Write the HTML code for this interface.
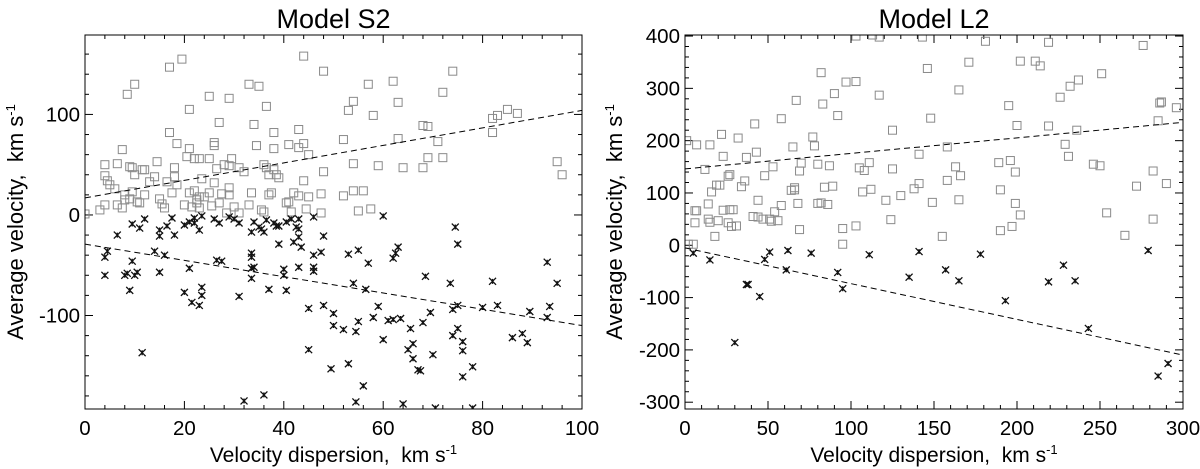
<!DOCTYPE html>
<html><head><meta charset="utf-8"><style>
html,body{margin:0;padding:0;background:#fff;}
svg{display:block;font-family:"Liberation Sans",sans-serif;}
</style></head><body>
<svg id="fig" width="1200" height="469" viewBox="0 0 1200 469" xmlns="http://www.w3.org/2000/svg"></svg>
<script>
// ---- Panel S2 data ----
const s2Squares = [[19.5,155],[17,147],[10,130],[8.5,120],[33,130],[35,128],[25,118],[29,116],[21,105],[36.5,108],[44,158],[48,143],[57,130],[62,133],[74,143],[72,122],[53,104],[54,113],[58,99],[63,112],[68,89],[69,88],[43,85],[34,90],[27,92],[38,82],[17,82],[7.5,65],[18.5,71],[21,66],[26,72],[26,69],[34.5,69],[38,66],[41,70],[43,67],[44,71],[45,60],[52,75],[63,76],[71,73],[82,82],[82,96],[83,99],[85,105],[87,101],[95,53],[96,40],[4,50],[6.5,51],[9,48],[9.5,47],[11.5,45],[12,45],[14.5,53],[18,47],[20.5,58],[22,56],[23,56],[25,56],[28,50],[29,49],[29.5,56],[31,47],[32,43],[36,50],[36.5,47],[38,45],[38.5,40],[39,37],[37,40],[44,34],[48,43],[54,51],[59,49],[64,47],[68,47],[69,57],[72,57],[4,39],[4.5,34],[5,30],[6,26],[8,20],[9,16],[9.5,23],[10,40],[10.5,13],[11,12],[12,20],[13,33],[14,38],[15,16],[15.5,11],[16,7],[16.5,33],[17.5,22],[18,38],[18.5,30],[20,10],[21,22],[21.5,8],[22,24],[22.5,12],[23,18],[23.5,36],[24,18],[25,22],[25.5,9],[26,32],[26.5,46],[27,12],[27.5,21],[29,27],[29,20],[30,8],[31,2],[33,10],[33.5,22],[35.5,5],[36,3],[37,20],[37.5,22],[40.5,12],[41,13],[41.5,3],[42,22],[43,19],[44.5,6],[45,18],[47.5,21],[47.5,2],[52,19],[54,24],[55,4],[56,24],[57.5,6],[3,5],[4,10],[6.5,10],[7.5,7],[8,15],[28.5,2],[23,7],[22.5,15],[0,1]];
const s2Crosses = [[6.5,-20],[9.5,-9],[11,-13],[12,-4],[15,-15],[15,-21],[16.5,-11],[17.5,-3],[18,-20],[20,-10],[21,-7],[22,-8],[22,-3],[23,-15],[23.5,-1],[26,-4],[27,-8],[29,-2],[30,-4],[31,-8],[33.5,-17],[34,-7],[35,-12],[35.5,-14],[36,-17],[36.5,-5],[38,-8],[38.5,-11],[39,-11],[40.5,-7],[41.5,-4],[42,-27],[42.5,-12],[43,-14],[43,-22],[43.5,-32],[43,-4],[46,-2],[48,-21],[60,-1],[74.5,-12],[75,-29],[4,-42],[4.5,-36],[4,-60],[8,-60],[8.5,-58],[9,-75],[9.5,-46],[10,-60],[10.5,-57],[14,-36],[15,-57],[16,-40],[11.5,-137],[20,-77],[21,-53],[21.5,-87],[23,-90],[23.5,-80],[23.5,-72],[26.5,-45],[27.5,-46],[31,-81],[33.5,-38],[33.5,-42],[33.5,-53],[33.5,-63],[34,-52],[37,-74],[39,-29],[40,-54],[40,-60],[40.5,-75],[43,-52],[46,-56],[46,-52],[46,-40],[47.5,-37],[48,-90],[45,-93],[45,-134],[36,-179],[32,-185],[50,-98],[50,-110],[52,-114],[49.5,-153],[53,-148],[53,-39],[54,-68],[54.5,-186],[54.5,-116],[55,-35],[55,-106],[56,-170],[56.5,-74],[57,-48],[58,-102],[59,-91],[60,-124],[61,-105],[62,-104],[62,-43],[62.5,-38],[63,-32],[63.5,-103],[64,-188],[65,-134],[65.5,-113],[66,-128],[66,-143],[67,-154],[67.5,-155],[68,-107],[68.5,-61],[69.5,-97],[70,-139],[70.5,-192],[73.5,-68],[74,-94],[74,-120],[75,-113],[75,-90],[76,-135],[76,-126],[76,-161],[78,-192],[78,-151],[80,-92],[82,-66],[83,-90],[86,-122],[88,-118],[89,-127],[89.5,-96],[93,-47],[93,-102],[93.5,-91],[95,-68]];
const s2FitUpper = [[0,17],[100,104]];
const s2FitLower = [[0,-29],[100,-110]];
const s2XTicks = [0,20,40,60,80,100];
const s2YTicks = [-100,0,100];

// ---- Panel L2 data ----
const l2Squares = [[103,400],[113,402],[117,398],[143,398],[181,390],[219,388],[276,382],[171,350],[202,352],[211,352],[214,343],[146,338],[82,330],[97,312],[103,313],[251,328],[237,316],[232,304],[165,297],[226,283],[90,290],[117,287],[67,277],[83,270],[195,267],[287,274],[286,272],[296,263],[92,248],[148,243],[58,242],[42,232],[285,238],[125,220],[200,229],[219,228],[236,220],[22,212],[32,205],[77,207],[1,200],[7,192],[15,192],[78,190],[65,188],[43,178],[23,170],[37,168],[158,188],[141,174],[229,193],[231,170],[70,157],[80,155],[87,152],[53,150],[105,148],[108,143],[111,158],[125,146],[69,142],[163,150],[196,162],[189,158],[199,140],[246,155],[250,152],[282,142],[12,145],[27,135],[26,132],[48,133],[166,133],[158,124],[36,123],[34,112],[21,115],[19,115],[16,102],[66,110],[64,105],[66,106],[89,113],[84,111],[112,107],[107,102],[141,118],[138,108],[130,95],[121,86],[44,86],[58,76],[54,64],[68,80],[80,80],[82,81],[86,78],[149,82],[165,87],[190,106],[199,80],[202,58],[254,62],[272,113],[290,118],[14,79],[6,66],[7,66],[14,50],[15,44],[20,47],[6,43],[23,67],[27,68],[29,68],[26,43],[28,36],[31,37],[41,55],[44,54],[47,50],[51,50],[52,46],[56,47],[18,17],[69,30],[95,32],[95,2],[103,37],[124,49],[155,17],[190,28],[197,36],[265,19],[282,50],[2,2],[5,2]];
const l2Crosses = [[5,-15],[15,-28],[48,-27],[51,-13],[62,-10],[76,-15],[111,-18],[141,-12],[178,-17],[279,-10],[37,-75],[38,-75],[61,-47],[92,-52],[95,-83],[135,-61],[157,-47],[165,-68],[219,-70],[228,-38],[235,-68],[45,-98],[193,-106],[30,-186],[243,-159],[285,-250],[291,-226]];
const l2FitUpper = [[0,146],[300,235]];
const l2FitLower = [[0,-5],[300,-210]];
const l2XTicks = [0,50,100,150,200,250,300];
const l2YTicks = [-300,-200,-100,0,100,200,300,400];

const NS = "http://www.w3.org/2000/svg";
const svg = document.getElementById('fig');
function mk(tag, attrs, parent){
  const e = document.createElementNS(NS, tag);
  for (const k in attrs) e.setAttribute(k, attrs[k]);
  (parent||svg).appendChild(e);
  return e;
}

function panel(cfg){
  const g = mk('g', {});
  
  
  const {x0,x1,y0,y1,xmin,xmax,ymin,ymax} = cfg;
  const sx = v => x0 + (v - xmin)/(xmax - xmin)*(x1 - x0);
  const sy = v => y1 - (v - ymin)/(ymax - ymin)*(y1 - y0);

  const t = mk('text', {x:(x0+x1)/2, y:28, 'font-size':27, 'text-anchor':'middle', fill:'#000'}, g);
  t.textContent = cfg.title;
  
  

  const tg = mk('g', {stroke:'#000','stroke-width':1}, g);
  
  
  for (let v = xmin; v <= xmax + 1e-9; v += cfg.xMinor){
    const major = Math.abs(v/cfg.xMajor - Math.round(v/cfg.xMajor)) < 1e-6;
    const L = major ? 8 : 4;
    mk('line', {x1:sx(v), x2:sx(v), y1:y1, y2:y1-L}, tg);
    mk('line', {x1:sx(v), x2:sx(v), y1:y0, y2:y0+L}, tg);
  }
  const ys = Math.ceil(ymin/cfg.yMinor)*cfg.yMinor;
  for (let v = ys; v <= ymax + 1e-9; v += cfg.yMinor){
    const major = Math.abs(v/cfg.yMajor - Math.round(v/cfg.yMajor)) < 1e-6;
    const L = major ? 8 : 4;
    mk('line', {x1:x0, x2:x0+L, y1:sy(v), y2:sy(v)}, tg);
    mk('line', {x1:x1, x2:x1-L, y1:sy(v), y2:sy(v)}, tg);
  }
  cfg.xTicks.forEach(v => {
    const e = mk('text', {x:sx(v), y:y1+26, 'font-size':20.5, 'text-anchor':'middle'}, g);
    e.textContent = v;
    
    
  });
  cfg.yTicks.forEach(v => {
    const e = mk('text', {x:x0-5, y:sy(v)+7, 'font-size':20.5, 'text-anchor':'end'}, g);
    e.textContent = v;
    
    
  });
  const xt = mk('text', {x:(x0+x1)/2, y:y1+53, 'font-size':21, 'text-anchor':'middle'}, g);
  xt.innerHTML = 'Velocity dispersion,&#160; km s<tspan dy="-8" font-size="13">-1</tspan>';
  
  
  const yt = mk('text', {x:0, y:0, 'font-size':22, 'text-anchor':'middle', transform:`translate(${cfg.ytx},${(y0+y1)/2}) rotate(-90)`}, g);
  yt.innerHTML = 'Average velocity,&#160; km s<tspan dy="-8" font-size="13">-1</tspan>';
  
  

  const cid = 'clip-' + cfg.name;
  const cp = mk('clipPath', {id:cid}, g);
  mk('rect', {x:x0, y:y0, width:x1-x0, height:y1-y0}, cp);
  const pg = mk('g', {'clip-path':`url(#${cid})`}, g);

  cfg.squares.forEach(p => {
    const r = mk('rect', {x:sx(p[0])-4, y:sy(p[1])-4, width:8, height:8, fill:'none', stroke:'#8a8a8a', 'stroke-width':1}, pg);
    
    
  });
  cfg.crosses.forEach(p => {
    const cx = sx(p[0]), cy = sy(p[1]);
    const c = mk('path', {d:`M${cx-3.5},${cy-3.5}L${cx+3.5},${cy+3.5}M${cx+3.5},${cy-3.5}L${cx-3.5},${cy+3.5}M${cx},${cy-2.5}L${cx},${cy+2.5}`, stroke:'#111', 'stroke-width':1.3, fill:'none'}, pg);
    
    
  });
  [cfg.fitU, cfg.fitL].forEach((f,i) => {
    const l = mk('line', {x1:sx(f[0][0]), y1:sy(f[0][1]), x2:sx(f[1][0]), y2:sy(f[1][1]), stroke:'#000', 'stroke-width':1, 'stroke-dasharray':'6,4'}, pg);
    
    
  });
  const fr = mk('rect', {x:x0, y:y0, width:x1-x0, height:y1-y0, fill:'none', stroke:'#000', 'stroke-width':1}, g);
  
  
}

panel({name:'panel-model-s2', title:'Model S2', x0:85, x1:582, y0:35, y1:409,
  xmin:0, xmax:100, ymin:-193, ymax:179, xMajor:20, xMinor:4, yMajor:100, yMinor:20,
  xTicks:s2XTicks, yTicks:s2YTicks, squares:s2Squares, crosses:s2Crosses,
  fitU:s2FitUpper, fitL:s2FitLower, ytx:23});
panel({name:'panel-model-l2', title:'Model L2', x0:685, x1:1183, y0:35, y1:409,
  xmin:0, xmax:300, ymin:-313, ymax:402, xMajor:50, xMinor:10, yMajor:100, yMinor:20,
  xTicks:l2XTicks, yTicks:l2YTicks, squares:l2Squares, crosses:l2Crosses,
  fitU:l2FitUpper, fitL:l2FitLower, ytx:622});
</script>
</body></html>
